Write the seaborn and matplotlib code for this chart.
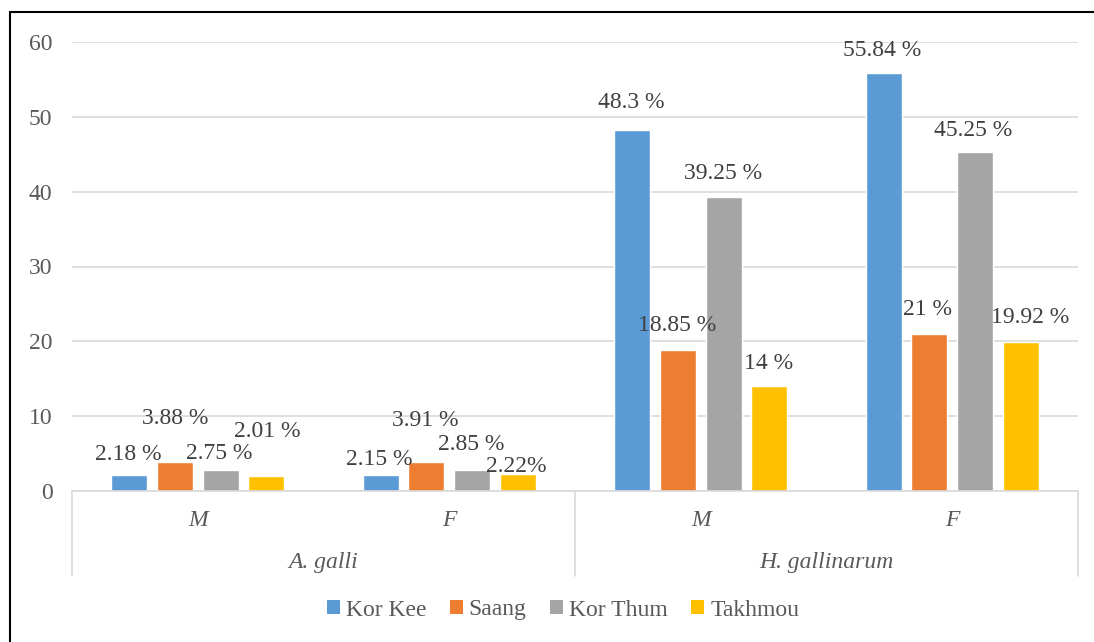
import pandas as pd
import matplotlib.pyplot as plt
import seaborn as sns
from matplotlib.patches import Rectangle, Patch

# data
parasites = ['A. galli', 'A. galli', 'H. gallinarum', 'H. gallinarum']
sexes = ['M', 'F', 'M', 'F']
series = ['Kor Kee', 'Saang', 'Kor Thum', 'Takhmou']
kor_kee = [2.18, 2.15, 48.3, 55.84]
saang = [3.88, 3.91, 18.85, 21]
kor_thum = [2.75, 2.85, 39.25, 45.25]
takhmou = [2.01, 2.22, 14, 19.92]
kor_kee_labels = ['2.18 %', '2.15 %', '48.3 %', '55.84 %']
saang_labels = ['3.88 %', '3.91 %', '18.85 %', '21 %']
kor_thum_labels = ['2.75 %', '2.85 %', '39.25 %', '45.25 %']
takhmou_labels = ['2.01 %', '2.22%', '14 %', '19.92 %']
yticks = [0, 10, 20, 30, 40, 50, 60]

colors = ['#5B9BD5', '#ED7D31', '#A5A5A5', '#FFC000']
# label nudges (pixels) as placed in the original chart
label_offsets = [
    [(-1.5, 20), (-1.5, 15), (-1, 27), (-2, 23)],
    [(0.5, 43), (-1, 41), (-1, 24), (-1.5, 24)],
    [(-1, 17), (-1, 25), (-0.5, 24), (-2, 22)],
    [(1.5, 44), (-1, 7.5), (-1, 23), (9, 24)],
]

cats = [f'{p}|{s}' for p, s in zip(parasites, sexes)]
rows = []
for name, vals in zip(series, [kor_kee, saang, kor_thum, takhmou]):
    for c, v in zip(cats, vals):
        rows.append({'cat': c, 'series': name, 'value': v})
df = pd.DataFrame(rows)

sns.set_style('white')
plt.rcParams['font.family'] = ['Liberation Serif', 'DejaVu Serif']

fig = plt.figure(figsize=(10.94, 6.42), dpi=100)
ax = fig.add_axes([72 / 1094, 1 - 491 / 642, (1078 - 72) / 1094, 449 / 642])

sns.barplot(data=df, x='cat', y='value', hue='series', order=cats,
            hue_order=series, palette=colors, width=0.725, gap=0.21,
            saturation=1, ax=ax, legend=False)

ax.set_ylim(0, 60)
ax.set_xlim(-0.5, 3.5)
ax.set_yticks(yticks)
ax.tick_params(axis='y', length=0, pad=14, labelsize=17, labelcolor='#595959')
ax.set_xticks([])
ax.set_xlabel('')
ax.set_ylabel('')
ax.yaxis.grid(True, color='#d9d9d9', linewidth=1.2)
ax.set_axisbelow(True)
for side in ['left', 'right', 'top']:
    ax.spines[side].set_visible(False)
ax.spines['bottom'].set_color('#d9d9d9')
ax.spines['bottom'].set_linewidth(1.2)

# data labels
all_labels = [kor_kee_labels, saang_labels, kor_thum_labels, takhmou_labels]
for cont, labs, offs in zip(ax.containers, all_labels, label_offsets):
    for bar, lab, (dx, dy) in zip(cont, labs, offs):
        x = bar.get_x() + bar.get_width() / 2
        y = bar.get_height()
        ax.annotate(lab, (x, y), xytext=(dx, dy), textcoords='offset pixels',
                    ha='center', va='center', fontsize=17, color='#404040')

# multi-level category axis
trans = ax.get_xaxis_transform()
for i, s in enumerate(sexes):
    ax.text(i, -0.0646, s, transform=trans, ha='center', va='center',
            fontsize=17, style='italic', color='#595959')
for gx, name in [(0.5, 'A. galli'), (2.5, 'H. gallinarum')]:
    ax.text(gx, -0.160, name, transform=trans, ha='center', va='center',
            fontsize=17, style='italic', color='#595959')
for xv in [-0.5, 1.5, 3.5]:
    ax.plot([xv, xv], [0, -0.189], transform=trans, color='#d9d9d9',
            linewidth=1.2, clip_on=False)

handles = [Patch(facecolor=c, edgecolor='none') for c in colors]
fig.legend(handles, series, loc='center', bbox_to_anchor=(563 / 1094, 1 - 610 / 642),
           ncol=4, frameon=False, fontsize=17, labelcolor='#595959',
           handlelength=0.55, handleheight=0.55, handletextpad=0.25,
           columnspacing=1.0)

fig.patches.append(Rectangle((10 / 1094, -0.2), 1.5, 0.2 + (1 - 12 / 642),
                             transform=fig.transFigure, fill=False,
                             edgecolor='black', linewidth=1.5))

fig.savefig('out.png', dpi=100)
